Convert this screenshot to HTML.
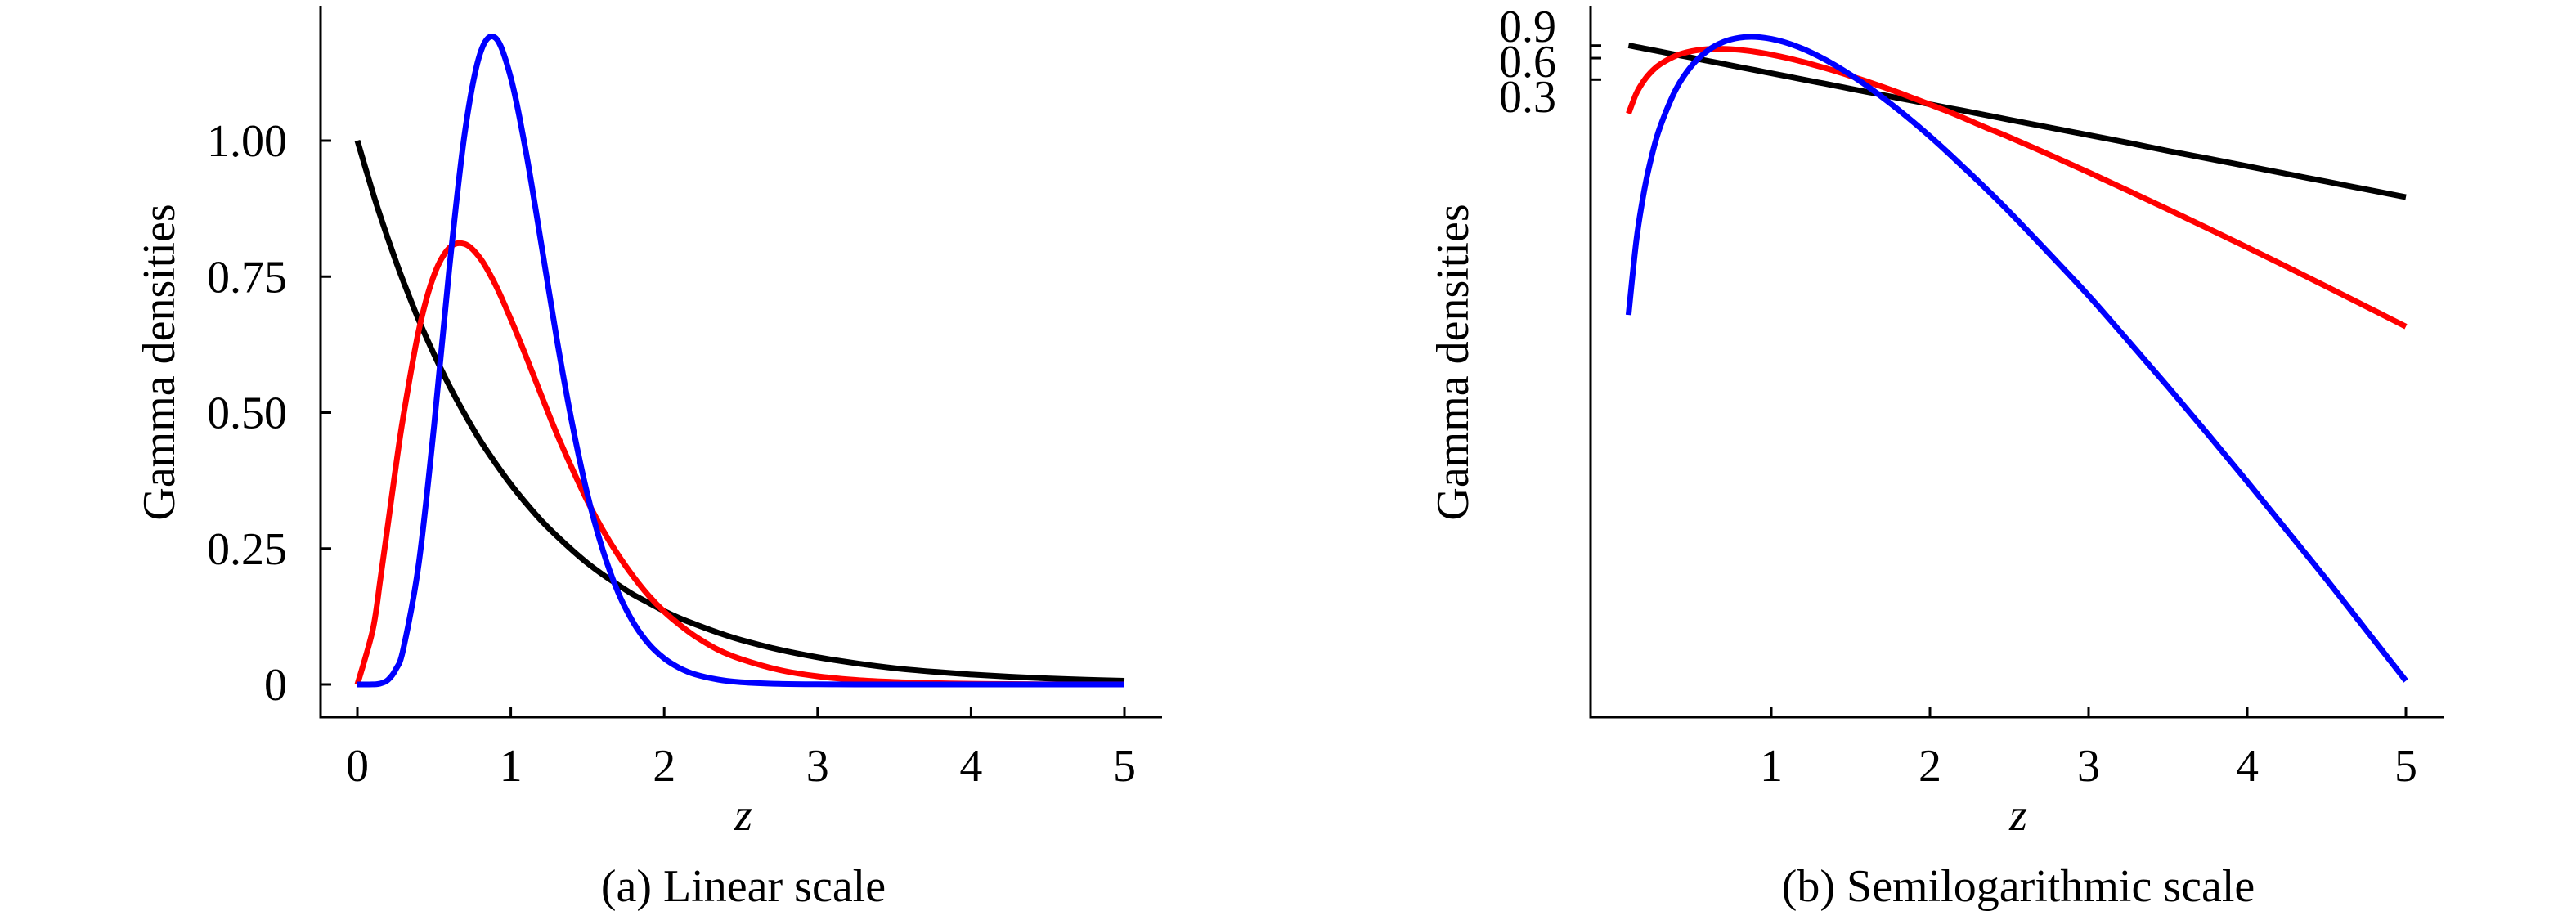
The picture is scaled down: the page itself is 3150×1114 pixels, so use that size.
<!DOCTYPE html>
<html><head><meta charset="utf-8"><style>
html,body{margin:0;padding:0;background:#fff;}
svg, svg text{font-family:"Liberation Serif","DejaVu Serif",serif;}
svg{display:block;}
</style></head><body>
<svg id="fig" width="3150" height="1114" viewBox="0 0 3150 1114">
  <g id="panelA"></g>
  <g id="panelB"></g>
</svg>
<script>
const zValues = [0,0.1,0.15,0.2,0.25,0.3,0.4,0.5,0.6,0.7,0.8,0.9,1,1.1,1.2,1.3,1.4,1.5,1.6,1.7,1.8,1.9,2,2.1,2.2,2.35,2.5,2.75,3,3.25,3.5,3.75,4,4.25,4.5,4.75,5];
const blackSeries = [1,0.905,0.861,0.819,0.779,0.741,0.670,0.607,0.549,0.497,0.449,0.407,0.368,0.333,0.301,0.273,0.247,0.223,0.202,0.183,0.165,0.150,0.135,0.122,0.111,0.0954,0.082,0.064,0.050,0.039,0.030,0.0235,0.0183,0.01426,0.01111,0.00865,0.00674];
const redSeries = [0,0.100,0.194,0.296,0.399,0.494,0.651,0.753,0.803,0.810,0.784,0.735,0.672,0.603,0.531,0.461,0.397,0.337,0.284,0.238,0.198,0.163,0.134,0.110,0.089,0.064,0.0467,0.0267,0.0150,0.0083,0.00455,0.00247,0.00133,0.00071,0.000375,0.000197,0.000103];
const blueSeries = [0,0.00015,0.00171,0.0086,0.0275,0.066,0.222,0.476,0.767,1.014,1.160,1.189,1.116,0.978,0.808,0.635,0.480,0.349,0.247,0.169,0.1135,0.0744,0.0479,0.0302,0.0187,0.0090,0.0042,0.0011,0.00028,0.000065,0.0000148,0.00000324,0.00000069,0.000000142,0.0000000292,0.0000000057,0.00000000111];
const linearYTicks = [0,0.25,0.5,0.75,1];
const linearYTickLabels = ["0","0.25","0.50","0.75","1.00"];
const linearXTicks = [0,1,2,3,4,5];
const logYTicks = [0.9,0.6,0.3];
const logYTickLabels = ["0.9","0.6","0.3"];
const logXTicks = [1,2,3,4,5];

const NS = "http://www.w3.org/2000/svg";
const FONT = '"Liberation Serif", "DejaVu Serif", serif';
function mk(parent, tag, attrs, text){
  const e = document.createElementNS(NS, tag);
  for (const k in attrs) e.setAttribute(k, attrs[k]);
  if (text !== undefined) { e.setAttribute("font-family", FONT); e.textContent = text; }
  parent.appendChild(e);
  return e;
}
function smoothPath(pts){
  let d = "M" + pts[0][0].toFixed(2) + "," + pts[0][1].toFixed(2);
  for (let i = 0; i < pts.length - 1; i++){
    const p0 = pts[Math.max(0,i-1)], p1 = pts[i], p2 = pts[i+1], p3 = pts[Math.min(pts.length-1,i+2)];
    const c1 = [p1[0]+(p2[0]-p0[0])/6, p1[1]+(p2[1]-p0[1])/6];
    const c2 = [p2[0]-(p3[0]-p1[0])/6, p2[1]-(p3[1]-p1[1])/6];
    d += " C" + c1[0].toFixed(2)+","+c1[1].toFixed(2)+" "+c2[0].toFixed(2)+","+c2[1].toFixed(2)+" "+p2[0].toFixed(2)+","+p2[1].toFixed(2);
  }
  return d;
}
const seriesList = [
  {vals: blackSeries, color: "#000000", name: "black-curve"},
  {vals: redSeries, color: "#ff0000", name: "red-curve"},
  {vals: blueSeries, color: "#0000ff", name: "blue-curve"}
];
const FS = 56;

// Panel A: linear
(function(){
  const g = document.getElementById("panelA");
  const xA = z => 437 + 187.6 * z;
  const yA = v => 837 - 665 * v;
  const ax = 392, ay = 877;
  let e = mk(g, "line", {x1: ax, y1: 7, x2: ax, y2: ay + 1.5, stroke: "#000", "stroke-width": 3});
   
  e = mk(g, "line", {x1: ax - 1.5, y1: ay, x2: 1421, y2: ay, stroke: "#000", "stroke-width": 3});
   
  linearYTicks.forEach((v, i) => {
    const t = mk(g, "line", {x1: ax, y1: yA(v), x2: ax + 13, y2: yA(v), stroke: "#000", "stroke-width": 3});
     
    const l = mk(g, "text", {x: 351, y: yA(v) + 19, "font-size": FS, "text-anchor": "end"}, linearYTickLabels[i]);
     
  });
  linearXTicks.forEach(z => {
    const t = mk(g, "line", {x1: xA(z), y1: ay, x2: xA(z), y2: ay - 13, stroke: "#000", "stroke-width": 3});
     
    const l = mk(g, "text", {x: xA(z), y: 955, "font-size": FS, "text-anchor": "middle"}, String(z));
     
  });
  seriesList.forEach(s => {
    const pts = zValues.map((z, i) => [xA(z), yA(s.vals[i])]);
    const p = mk(g, "path", {d: smoothPath(pts), fill: "none", stroke: s.color, "stroke-width": 7, "stroke-linejoin": "round"});
     
  });
  let t = mk(g, "text", {x: 909, y: 1015, "font-size": FS, "font-style": "italic", "text-anchor": "middle"}, "z");
   
  t = mk(g, "text", {x: 0, y: 0, "font-size": FS, "text-anchor": "middle", transform: "translate(213,443) rotate(-90)"}, "Gamma densities");
   
  t = mk(g, "text", {x: 909, y: 1102, "font-size": FS, "text-anchor": "middle"}, "(a) Linear scale");
   
})();

// Panel B: semilog
(function(){
  const g = document.getElementById("panelB");
  const xB = z => 2166 + 194 * (z - 1);
  const yB = v => 55.7 - 87.2 * (Math.log10(v) - Math.log10(0.9));
  const ax = 1945, ay = 877;
  let e = mk(g, "line", {x1: ax, y1: 7, x2: ax, y2: ay + 1.5, stroke: "#000", "stroke-width": 3});
   
  e = mk(g, "line", {x1: ax - 1.5, y1: ay, x2: 2988, y2: ay, stroke: "#000", "stroke-width": 3});
   
  const labelY = [32, 75, 118];
  logYTicks.forEach((v, i) => {
    const t = mk(g, "line", {x1: ax, y1: yB(v), x2: ax + 13, y2: yB(v), stroke: "#000", "stroke-width": 3});
     
    const l = mk(g, "text", {x: 1903, y: labelY[i] + 19, "font-size": FS, "text-anchor": "end"}, logYTickLabels[i]);
     
  });
  logXTicks.forEach(z => {
    const t = mk(g, "line", {x1: xB(z), y1: ay, x2: xB(z), y2: ay - 13, stroke: "#000", "stroke-width": 3});
     
    const l = mk(g, "text", {x: xB(z), y: 955, "font-size": FS, "text-anchor": "middle"}, String(z));
     
  });
  seriesList.forEach(s => {
    const pts = [];
    zValues.forEach((z, i) => { if (z >= 0.1 && s.vals[i] > 0) pts.push([xB(z), yB(s.vals[i])]); });
    const p = mk(g, "path", {d: smoothPath(pts), fill: "none", stroke: s.color, "stroke-width": 7, "stroke-linejoin": "round"});
     
  });
  let t = mk(g, "text", {x: 2468, y: 1015, "font-size": FS, "font-style": "italic", "text-anchor": "middle"}, "z");
   
  t = mk(g, "text", {x: 0, y: 0, "font-size": FS, "text-anchor": "middle", transform: "translate(1795,443) rotate(-90)"}, "Gamma densities");
   
  t = mk(g, "text", {x: 2468, y: 1102, "font-size": FS, "text-anchor": "middle"}, "(b) Semilogarithmic scale");
   
})();
</script>
</body></html>
